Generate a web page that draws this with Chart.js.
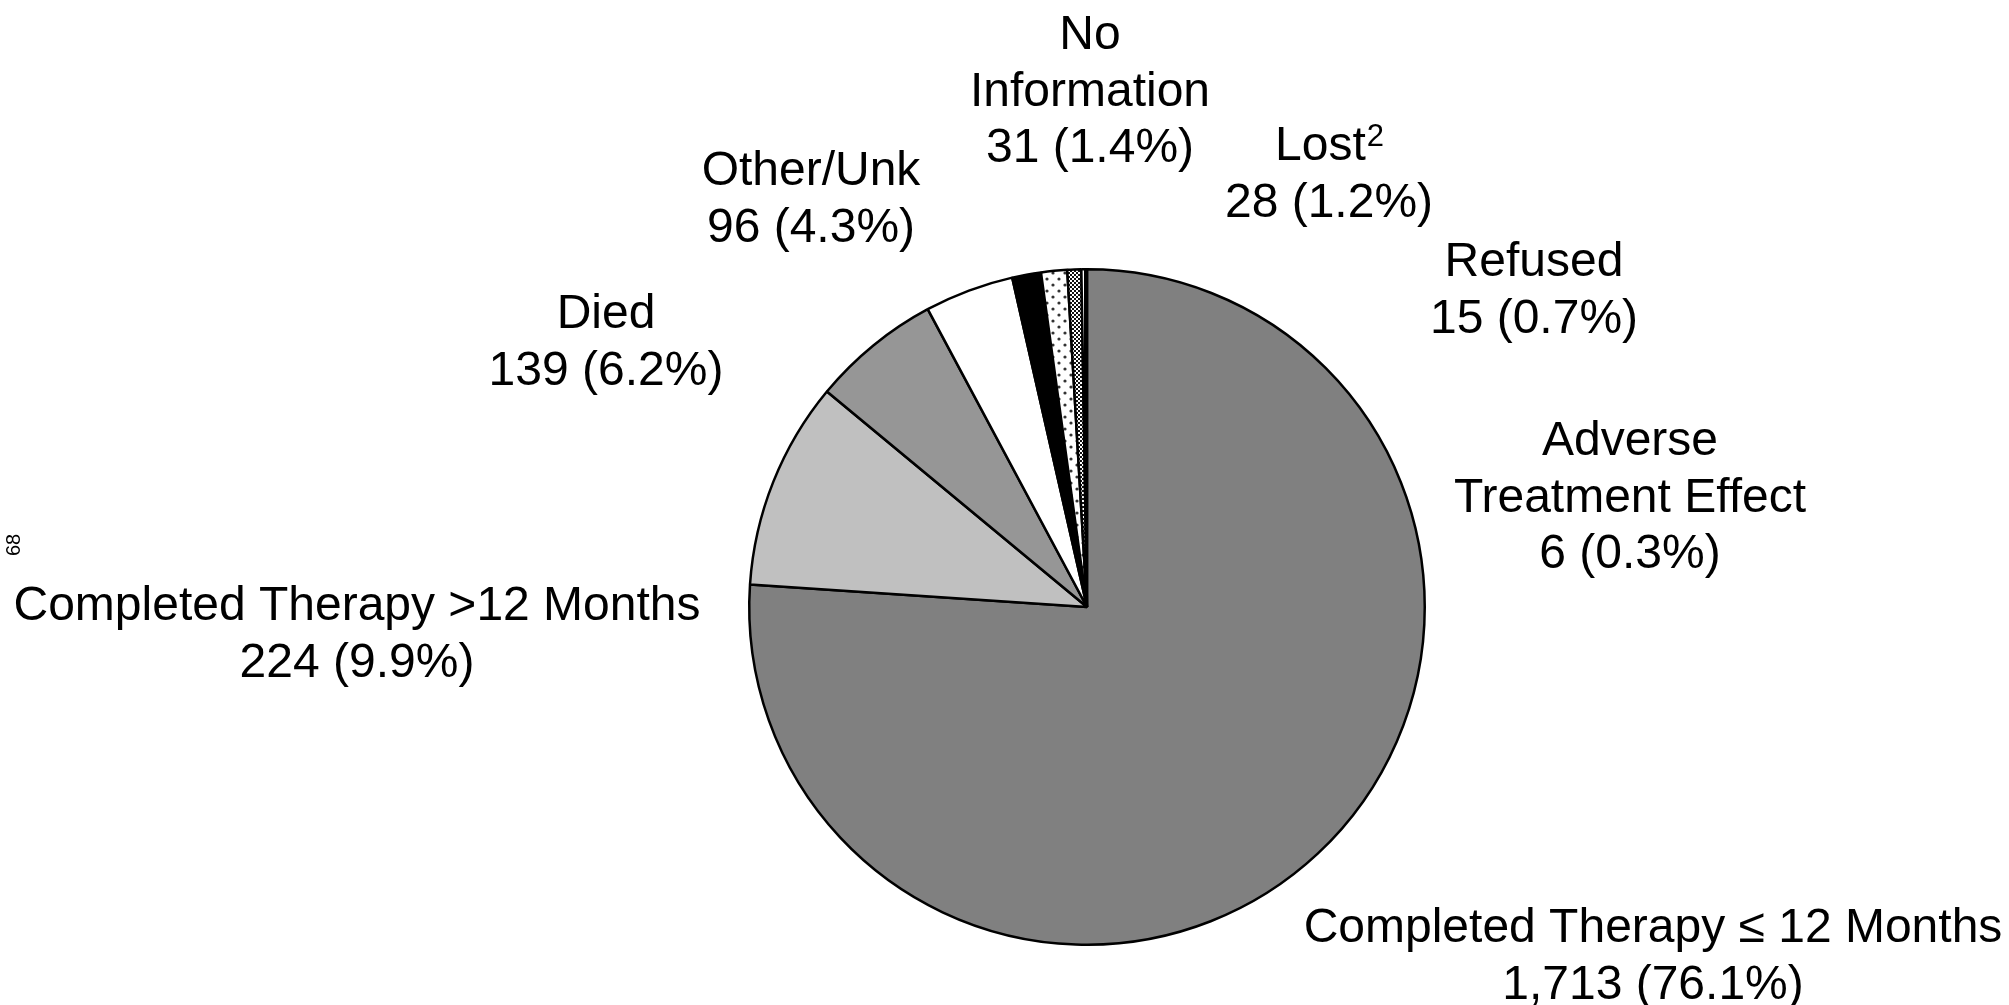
<!DOCTYPE html>
<html>
<head>
<meta charset="utf-8">
<script src="https://cdn.jsdelivr.net/npm/chart.js@4.4.0/dist/chart.umd.min.js"></script>
<style>
  html, body { margin: 0; padding: 0; background: #fff; }
  #wrap { width: 2009px; height: 1005px; position: relative; }
</style>
</head>
<body>
<div id="wrap"><canvas id="pieChart"></canvas></div>
<script>
// data, clockwise from 12 o'clock
const categories = [
  "Completed Therapy \u2264 12 Months",
  "Completed Therapy >12 Months",
  "Died",
  "Other/Unk",
  "No Information",
  "Lost\u00B2",
  "Refused",
  "Adverse Treatment Effect"
];
const counts = [1713, 224, 139, 96, 31, 28, 15, 6];
const percents = ["76.1", "9.9", "6.2", "4.3", "1.4", "1.2", "0.7", "0.3"];

// label layout (text lines + where to draw them)
const labelLines = [
  ["Completed Therapy \u2264 12 Months"],
  ["Completed Therapy >12 Months"],
  ["Died"],
  ["Other/Unk"],
  ["No", "Information"],
  ["Lost\u00B2"],
  ["Refused"],
  ["Adverse", "Treatment Effect"]
];
const labelX = [1653, 357, 606, 811, 1090, 1329, 1534, 1630];
const labelTop = [929, 607, 315, 172, 36, 147, 263, 442];
const lineGap = 56.5;
const FONT = "'Liberation Sans', Arial, sans-serif";

function makePattern(kind) {
  const c = document.createElement("canvas");
  const g = c.getContext("2d");
  if (kind === "dots") {
    c.width = 12; c.height = 12;
    g.fillStyle = "#fff"; g.fillRect(0, 0, 12, 12);
    g.fillStyle = "#333";
    [[3, 3], [9, 9]].forEach(([x, y]) => {
      g.beginPath(); g.arc(x, y, 1.6, 0, Math.PI * 2); g.fill();
    });
  } else if (kind === "dense") {
    c.width = 4; c.height = 4;
    g.fillStyle = "#fff"; g.fillRect(0, 0, 4, 4);
    g.fillStyle = "#111";
    g.fillRect(0, 0, 2, 2); g.fillRect(2, 2, 2, 2);
  } else {
    c.width = 4; c.height = 4;
    g.fillStyle = "#fff"; g.fillRect(0, 0, 4, 4);
    g.fillStyle = "#000";
    g.fillRect(0, 0, 2, 4);
  }
  return g.createPattern(c, "repeat");
}

const colors = [
  "#808080",
  "#c0c0c0",
  "#969696",
  "#ffffff",
  "#000000",
  makePattern("dots"),
  makePattern("dense"),
  makePattern("stripes")
];

function drawLine(ctx, text, x, y) {
  const parts = text.split("\u00B2");
  if (parts.length === 1) {
    ctx.fillText(text, x, y);
    return;
  }
  // superscript 2
  ctx.font = "48px " + FONT;
  const w1 = ctx.measureText(parts[0]).width;
  ctx.font = "31px " + FONT;
  const w2 = ctx.measureText("2").width;
  const left = x - (w1 + w2) / 2;
  ctx.textAlign = "left";
  ctx.font = "48px " + FONT;
  ctx.fillText(parts[0], left, y);
  ctx.font = "31px " + FONT;
  ctx.fillText("2", left + w1 + 1, y - 10);
  ctx.font = "48px " + FONT;
  ctx.textAlign = "center";
}

const labelPlugin = {
  id: "sliceLabels",
  afterDraw(chart) {
    const ctx = chart.ctx;
    ctx.save();
    ctx.fillStyle = "#000";
    ctx.textAlign = "center";
    ctx.textBaseline = "middle";
    ctx.font = "48px " + FONT;
    labelLines.forEach((lines, i) => {
      const all = lines.concat([counts[i].toLocaleString("en-US") + " (" + percents[i] + "%)"]);
      all.forEach((t, k) => {
        drawLine(ctx, t, labelX[i], labelTop[i] + k * lineGap);
      });
    });
    // page number, rotated
    ctx.font = "20px " + FONT;
    ctx.translate(14, 545);
    ctx.rotate(-Math.PI / 2);
    ctx.fillText("68", 0, 0);
    ctx.restore();
  }
};

new Chart(document.getElementById("pieChart"), {
  type: "pie",
  data: {
    labels: categories,
    datasets: [{
      data: counts,
      backgroundColor: colors,
      borderColor: "#000",
      borderWidth: 2.5
    }]
  },
  options: {
    responsive: true,
    maintainAspectRatio: false,
    animation: false,
    events: [],
    layout: { padding: { left: 748, right: 583, top: 268, bottom: 59 } },
    plugins: {
      legend: { display: false },
      tooltip: { enabled: false }
    }
  },
  plugins: [labelPlugin]
});
</script>
</body>
</html>
